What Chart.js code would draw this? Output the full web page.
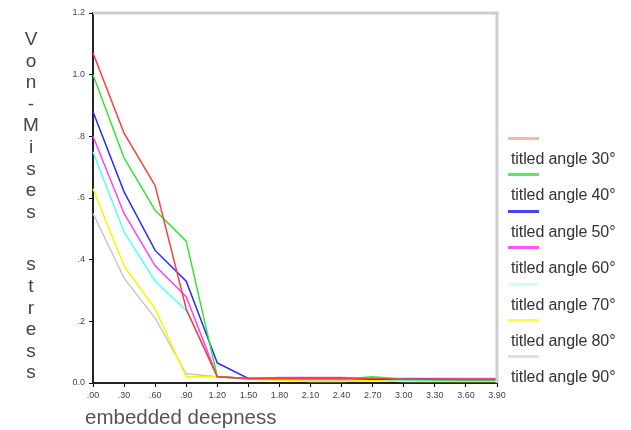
<!DOCTYPE html>
<html lang="en">
<head>
  <meta charset="UTF-8" />
  <title>Von-Mises stress vs embedded deepness</title>
  <style>
    body { margin: 0; background: #fff; }
    .wrap { position: relative; width: 631px; height: 430px; }
    #ytitle {
      position: absolute; left: 20px; top: 28px; width: 22px;
      font: 19px "Liberation Sans", Arial, sans-serif; color: #444;
      text-align: center; line-height: 21.6px;
    }
    #ytitle .gap { height: 31px; }
    #xtitle {
      position: absolute; left: 85px; top: 405px; white-space: nowrap;
      font: 20.5px "Liberation Sans", Arial, sans-serif; color: #555;
    }
    #legend { position: absolute; left: 506px; top: 131px; width: 125px; }
    .item { height: 36.4px; position: relative; }
    .item .swatch { position: absolute; left: 2px; top: 6px; width: 31px; height: 3px; }
    .item .txt {
      position: absolute; left: 5px; top: 19px; white-space: nowrap;
      font: 16px "Liberation Sans", Arial, sans-serif; color: #333; letter-spacing: -0.1px;
    }
  </style>
</head>
<body>
  <div class="wrap">
    <canvas id="chart" width="631" height="430"></canvas>
    <div id="ytitle"></div>
    <div id="xtitle">embedded deepness</div>
    <div id="legend"></div>
  </div>

  <script src="https://cdn.jsdelivr.net/npm/chart.js"></script>
  <script>
    // data
    const depths = ['.00', '.30', '.60', '.90', '1.20', '1.50', '1.80', '2.10', '2.40', '2.70', '3.00', '3.30', '3.60', '3.90'];
    const yTickLabels = ['0.0', '.2', '.4', '.6', '.8', '1.0', '1.2'];
    const labels = ['titled angle 30°', 'titled angle 40°', 'titled angle 50°', 'titled angle 60°', 'titled angle 70°', 'titled angle 80°', 'titled angle 90°'];

    const angle30 = [1.07, 0.81, 0.64, 0.24, 0.02, 0.015, 0.015, 0.015, 0.015, 0.015, 0.012, 0.012, 0.012, 0.012];
    const angle40 = [1.00, 0.73, 0.56, 0.46, 0.02, 0.015, 0.015, 0.012, 0.012, 0.02, 0.012, 0.01, 0.01, 0.01];
    const angle50 = [0.88, 0.62, 0.43, 0.33, 0.065, 0.015, 0.015, 0.015, 0.015, 0.012, 0.012, 0.012, 0.01, 0.01];
    const angle60 = [0.80, 0.55, 0.38, 0.28, 0.02, 0.015, 0.018, 0.018, 0.018, 0.015, 0.015, 0.015, 0.015, 0.015];
    const angle70 = [0.75, 0.49, 0.33, 0.235, 0.02, 0.015, 0.015, 0.012, 0.012, 0.012, 0.01, 0.01, 0.01, 0.01];
    const angle80 = [0.63, 0.38, 0.24, 0.02, 0.02, 0.012, 0.01, 0.005, 0.005, 0.008, 0.005, 0.005, 0.005, 0.005];
    const angle90 = [0.55, 0.34, 0.21, 0.03, 0.02, 0.012, 0.01, 0.008, 0.008, 0.008, 0.008, 0.008, 0.008, 0.008];

    const lineColors = ['#ff3b3b', '#33e633', '#2a2aff', '#ff40ff', '#55ffff', '#f7f700', '#c8c8c8'];
    const legendColors = ['#ffb3b3', '#55ee55', '#4444ff', '#ff55ff', '#ccffff', '#ffff44', '#e0e0e0'];
    const series = [angle30, angle40, angle50, angle60, angle70, angle80, angle90];

    // vertical y title, one letter per line
    const yt = document.getElementById('ytitle');
    'Von-Mises stress'.split('').forEach(ch => {
      const d = document.createElement('div');
      if (ch === ' ') d.className = 'gap'; else d.textContent = ch;
      yt.appendChild(d);
    });

    const frame = {
      id: 'frame',
      afterDraw(chart) {
        const { ctx, chartArea: a } = chart;
        ctx.save();
        ctx.strokeStyle = '#cfcfcf';
        ctx.lineWidth = 3;
        ctx.beginPath();
        ctx.moveTo(a.left, a.top);
        ctx.lineTo(a.right, a.top);
        ctx.lineTo(a.right, a.bottom);
        ctx.stroke();
        ctx.restore();
      }
    };

    const tickFont = { family: '"Liberation Sans", Arial, sans-serif', size: 9 };

    const chart = new Chart(document.getElementById('chart'), {
      type: 'line',
      data: {
        labels: depths,
        datasets: series.map((d, i) => ({
          label: labels[i],
          data: d,
          borderColor: lineColors[i],
          borderWidth: 1.5,
          pointRadius: 0,
          tension: 0,
          fill: false
        }))
      },
      options: {
        responsive: false,
        animation: false,
        layout: { padding: { left: 63, top: 13, right: 134, bottom: 0 } },
        plugins: { legend: { display: false }, tooltip: { enabled: false } },
        scales: {
          x: {
            offset: false,
            grid: { drawOnChartArea: false, color: '#000', tickLength: 4 },
            border: { color: '#222', width: 2 },
            ticks: { color: '#444', font: tickFont, maxRotation: 0, autoSkip: false, padding: 3 },
            afterFit: s => { s.height = 47; }
          },
          y: {
            min: 0, max: 1.2,
            grid: { drawOnChartArea: false, color: '#000', tickLength: 4 },
            border: { color: '#222', width: 2 },
            ticks: {
              stepSize: 0.2, color: '#444', font: tickFont, padding: 4,
              callback: v => yTickLabels[Math.round(v / 0.2)]
            },
            afterFit: s => { s.width = 30; }
          }
        }
      },
      plugins: [frame]
    });

    // legend: short line above each label
    const lg = document.getElementById('legend');
    chart.data.datasets.forEach((ds, i) => {
      const it = document.createElement('div');
      it.className = 'item';
      it.innerHTML = '<div class="swatch" style="background:' + legendColors[i] + '"></div><div class="txt">' + ds.label + '</div>';
      lg.appendChild(it);
    });
  </script>
</body>
</html>
